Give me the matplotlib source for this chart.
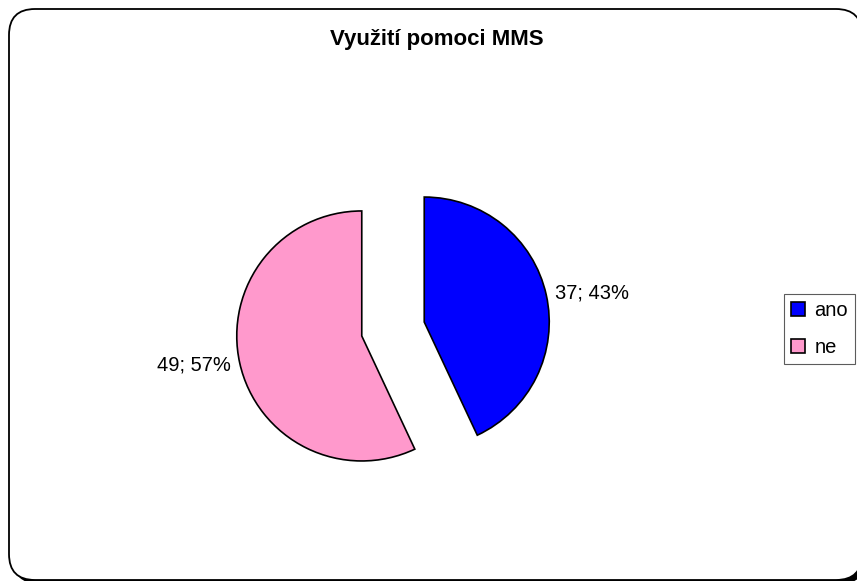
import matplotlib
matplotlib.use("Agg")
import matplotlib.pyplot as plt
from matplotlib.patches import FancyBboxPatch

plt.rcParams['font.family'] = ['Liberation Sans', 'DejaVu Sans']

title = "Využití pomoci MMS"
categories = ["ano", "ne"]
values = [37, 49]
percents = [43, 57]
colors = ["#0000FF", "#FF99CC"]

W, H = 857, 581
fig = plt.figure(figsize=(W / 100, H / 100), dpi=100)
ax = fig.add_axes([0, 0, 1, 1])

# chart border with small shadow (right edge runs off the image)
shadow = FancyBboxPatch((13, -3), 853, 571, boxstyle="round,pad=0,rounding_size=26",
                        facecolor="black", edgecolor="black", lw=0, zorder=0)
ax.add_patch(shadow)
frame = FancyBboxPatch((9, 1), 853, 571, boxstyle="round,pad=0,rounding_size=26",
                       facecolor="white", edgecolor="black", lw=1.3, zorder=1)
ax.add_patch(frame)

cx, cy = 393, 252
labels = [f"{v}; {p}%" for v, p in zip(values, percents)]
wedges, texts = ax.pie(values, labels=labels, colors=colors, startangle=90,
                       counterclock=False, center=(cx, cy), radius=125,
                       explode=[32, 32], labeldistance=1.075,
                       wedgeprops=dict(edgecolor="black", linewidth=1.2),
                       textprops=dict(fontsize=14.5, color="black"), frame=True)
for w in wedges:
    w.set_zorder(3)
for t in texts:
    t.set_zorder(4)
    x, y = t.get_position()
    t.set_ha("left" if x > cx else "right")
ax.set_xlim(0, W)
ax.set_ylim(0, H)
ax.set_aspect('equal')
ax.axis('off')

ax.text(437, 542, title, ha="center", va="center", fontsize=16,
        fontweight="bold", zorder=5)

leg = ax.legend(wedges, categories, loc="center left",
                bbox_to_anchor=(784, 252), bbox_transform=ax.transData,
                fontsize=14.5, handlelength=0.7, handleheight=0.7,
                handletextpad=0.45, borderpad=0.35, labelspacing=0.9,
                fancybox=False, frameon=True, borderaxespad=0)
leg.get_frame().set_edgecolor("#333333")
leg.get_frame().set_linewidth(0.8)
leg.set_zorder(6)

fig.savefig("out.png", dpi=100)
